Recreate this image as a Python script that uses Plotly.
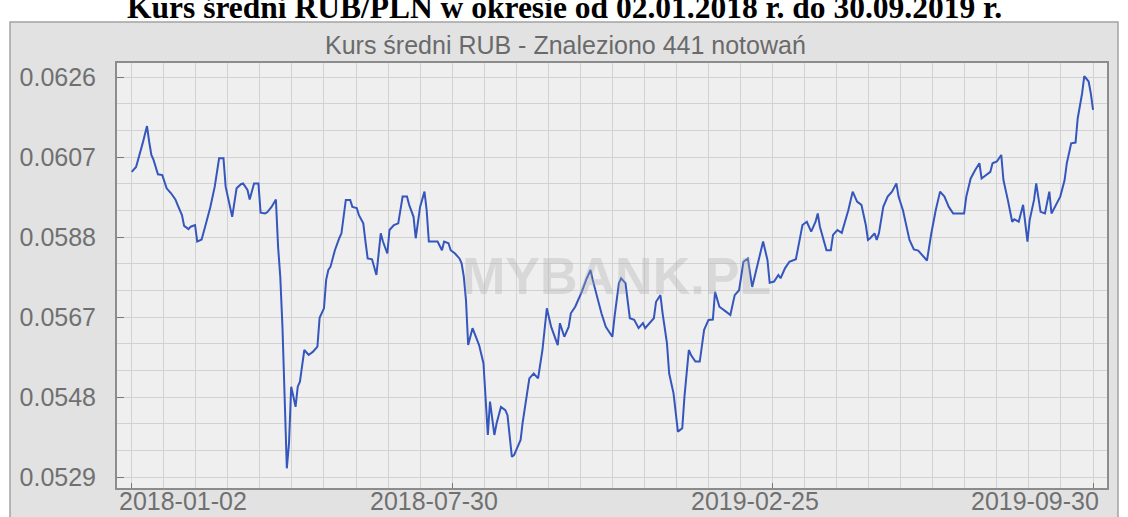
import plotly.graph_objects as go

# ---- data (quotation number, average RUB/PLN rate) ----
quote_no = [0, 2, 5, 7, 8, 9, 10, 12, 14, 16,
            18, 20, 21, 23, 24, 26, 27, 29, 30, 32,
            34, 36, 38, 40, 42, 43, 45, 46, 48, 50,
            51, 53, 54, 56, 58, 59, 61, 62, 64, 66,
            67, 68, 69, 70, 71, 72, 73, 74, 75, 76,
            77, 79, 81, 83, 85, 86, 87, 88, 89, 90,
            91, 93, 95, 96, 98, 100, 101, 103, 104, 106,
            107, 108, 110, 112, 114, 115, 117, 118, 120, 122,
            124, 126, 127, 129, 130, 132, 134, 135, 136, 138,
            140, 142, 143, 145, 146, 148, 150, 151, 152, 153,
            154, 156, 157, 159, 161, 162, 163, 164, 166, 167,
            169, 171, 172, 174, 175, 178, 179, 182, 184, 186,
            188, 190, 192, 195, 196, 198, 200, 201, 203, 204,
            206, 208, 210, 211, 213, 215, 217, 220, 221, 223,
            224, 226, 228, 230, 232, 234, 235, 237, 239, 240,
            242, 243, 245, 246, 248, 250, 252, 253, 255, 256,
            258, 260, 262, 264, 266, 267, 269, 272, 274, 276,
            278, 280, 282, 284, 286, 288, 289, 291, 292, 294,
            296, 297, 299, 301, 304, 306, 307, 309, 311, 313,
            314, 315, 317, 318, 320, 321, 323, 325, 328, 330,
            332, 334, 336, 337, 338, 340, 341, 342, 344, 346,
            348, 350, 351, 353, 356, 358, 360, 362, 364, 366,
            368, 370, 372, 374, 376, 378, 381, 382, 384, 386,
            388, 389, 391, 393, 394, 396, 398, 399, 401, 403,
            404, 406, 408, 410, 411, 413, 414, 416, 418, 420,
            421, 423, 425, 427, 428, 430, 432, 433, 435, 436,
            438, 439, 440]

rate = [0.06030, 0.06042, 0.06099, 0.06141, 0.06103, 0.06071, 0.06059, 0.06024, 0.06022, 0.05990,
        0.05978, 0.05963, 0.05950, 0.05925, 0.05899, 0.05891, 0.05897, 0.05901, 0.05861, 0.05866,
        0.05905, 0.05945, 0.05994, 0.06063, 0.06063, 0.05994, 0.05945, 0.05921, 0.05990, 0.06000,
        0.06002, 0.05986, 0.05963, 0.06002, 0.06002, 0.05931, 0.05929, 0.05932, 0.05945, 0.05963,
        0.05848, 0.05776, 0.05654, 0.05452, 0.05311, 0.05372, 0.05509, 0.05485, 0.05460, 0.05509,
        0.05521, 0.05598, 0.05586, 0.05594, 0.05606, 0.05676, 0.05690, 0.05699, 0.05768, 0.05792,
        0.05800, 0.05840, 0.05869, 0.05881, 0.05962, 0.05962, 0.05945, 0.05942, 0.05925, 0.05905,
        0.05861, 0.05820, 0.05818, 0.05780, 0.05881, 0.05861, 0.05832, 0.05889, 0.05901, 0.05905,
        0.05970, 0.05970, 0.05950, 0.05921, 0.05869, 0.05945, 0.05982, 0.05937, 0.05861, 0.05861,
        0.05861, 0.05840, 0.05861, 0.05857, 0.05840, 0.05832, 0.05820, 0.05808, 0.05776, 0.05719,
        0.05610, 0.05651, 0.05638, 0.05610, 0.05566, 0.05477, 0.05392, 0.05473, 0.05392, 0.05420,
        0.05460, 0.05452, 0.05440, 0.05339, 0.05343, 0.05380, 0.05424, 0.05529, 0.05541, 0.05529,
        0.05598, 0.05699, 0.05654, 0.05610, 0.05663, 0.05630, 0.05654, 0.05687, 0.05703, 0.05715,
        0.05739, 0.05768, 0.05792, 0.05768, 0.05727, 0.05687, 0.05654, 0.05630, 0.05679, 0.05760,
        0.05772, 0.05760, 0.05675, 0.05671, 0.05651, 0.05663, 0.05651, 0.05663, 0.05675, 0.05715,
        0.05731, 0.05687, 0.05614, 0.05541, 0.05493, 0.05400, 0.05408, 0.05485, 0.05598, 0.05586,
        0.05570, 0.05570, 0.05647, 0.05671, 0.05672, 0.05739, 0.05703, 0.05691, 0.05683, 0.05731,
        0.05743, 0.05812, 0.05820, 0.05751, 0.05796, 0.05840, 0.05861, 0.05816, 0.05761, 0.05764,
        0.05780, 0.05772, 0.05796, 0.05812, 0.05818, 0.05873, 0.05901, 0.05909, 0.05885, 0.05909,
        0.05929, 0.05897, 0.05861, 0.05840, 0.05840, 0.05877, 0.05889, 0.05882, 0.05937, 0.05982,
        0.05958, 0.05950, 0.05901, 0.05865, 0.05869, 0.05881, 0.05865, 0.05881, 0.05945, 0.05970,
        0.05982, 0.06002, 0.05970, 0.05937, 0.05865, 0.05842, 0.05839, 0.05828, 0.05815, 0.05881,
        0.05937, 0.05982, 0.05970, 0.05945, 0.05929, 0.05929, 0.05929, 0.05970, 0.06014, 0.06034,
        0.06051, 0.06014, 0.06022, 0.06030, 0.06051, 0.06055, 0.06071, 0.06010, 0.05962, 0.05909,
        0.05915, 0.05909, 0.05950, 0.05861, 0.05913, 0.05962, 0.06002, 0.05933, 0.05929, 0.05982,
        0.05929, 0.05950, 0.05970, 0.06010, 0.06051, 0.06099, 0.06101, 0.06160, 0.06220, 0.06262,
        0.06249, 0.06220, 0.06180]

x_tick_labels = ["2018-01-02", "2018-07-30", "2019-02-25", "2019-09-30"]
y_tick_labels = ["0.0529", "0.0548", "0.0567", "0.0588", "0.0607", "0.0626"]

page_title = "Kurs średni RUB/PLN w okresie od 02.01.2018 r. do 30.09.2019 r."
chart_title = "Kurs średni RUB - Znaleziono 441 notowań"
watermark = "MYBANK.PL"

# ---- axis scales ----
n_last = 440
x_ticks = [n_last * i / 3 for i in range(4)]
y_base, y_step = 0.0529, 0.00194
y_ticks = [y_base + i * y_step for i in range(len(y_tick_labels))]

W, H = 1128, 517
L, R, T, B = 117, 21, 63, 29
PW, PH = W - L - R, H - T - B


def fx(px):
    return (px - L) / PW


def fy(py):
    return (H - B - py) / PH


panel = "#e2e2e2"
grid = "#d2d2d2"
label_font = dict(family="Liberation Sans, Arial, sans-serif", size=25, color="#707070")

fig = go.Figure()
fig.add_trace(go.Scatter(
    x=quote_no, y=rate, mode="lines",
    line=dict(color="#3556bd", width=2),
    hoverinfo="skip", showlegend=False,
))

# x tick labels (edge labels kept inside the panel, as in the original)
x_label_specs = [("left", -14), ("center", -18), ("center", -18), ("right", 7)]
annotations = []
for xv, txt, (anc, shift) in zip(x_ticks, x_tick_labels, x_label_specs):
    annotations.append(dict(
        text=txt, xref="x", yref="paper", x=xv, y=fy(501), xanchor=anc, yanchor="middle",
        xshift=shift, showarrow=False, borderpad=0, font=label_font))

annotations += [
    dict(text=f"<b>{page_title}</b>", xref="paper", yref="paper",
         x=fx(564), y=fy(27), xanchor="center", yanchor="bottom", showarrow=False,
         font=dict(family="Liberation Serif, Times New Roman, serif", size=31.5, color="black")),
    dict(text=chart_title, xref="paper", yref="paper",
         x=fx(565), y=fy(45), xanchor="center", yanchor="middle", showarrow=False,
         font=dict(family="Liberation Sans, Arial, sans-serif", size=25, color="#6a6a6a")),
    dict(text=f"<b>{watermark}</b>", xref="paper", yref="paper",
         x=fx(616), y=fy(276), xanchor="center", yanchor="middle", showarrow=False,
         font=dict(family="Liberation Sans, Arial, sans-serif", size=52, color="rgba(170,170,170,0.33)")),
]

fig.update_layout(
    width=W, height=H,
    margin=dict(l=L, r=R, t=T, b=B, pad=0),
    paper_bgcolor=panel,
    plot_bgcolor="#efefef",
    showlegend=False,
    xaxis=dict(
        range=[-6.73, 446.4], automargin=False,
        tickmode="array", tickvals=x_ticks, ticktext=x_tick_labels, showticklabels=False,
        ticks="inside", ticklen=5, tickcolor="#777777", tickwidth=1,
        showgrid=True, gridcolor=grid, gridwidth=1,
        minor=dict(tick0=0, dtick=n_last / 30, showgrid=True, gridcolor=grid, gridwidth=1),
        showline=True, linecolor="#8c8c8c", linewidth=2, mirror=True,
        zeroline=False,
    ),
    yaxis=dict(
        range=[y_base - 11 * y_step / 80, y_base + 414 * y_step / 80], automargin=False,
        tickmode="array", tickvals=y_ticks, ticktext=y_tick_labels,
        ticks="inside", ticklen=7, tickcolor="#777777", tickwidth=1,
        showgrid=True, gridcolor=grid, gridwidth=1,
        minor=dict(tick0=y_base, dtick=y_step / 3, showgrid=True, gridcolor=grid, gridwidth=1),
        showline=True, linecolor="#8c8c8c", linewidth=2, mirror=True,
        zeroline=False, tickfont=label_font, ticklabelstandoff=14,
    ),
    shapes=[
        # white page around the chart panel
        dict(type="rect", xref="paper", yref="paper", x0=fx(0), x1=fx(W), y0=fy(22), y1=fy(0),
             fillcolor="white", line=dict(width=0), layer="below"),
        dict(type="rect", xref="paper", yref="paper", x0=fx(0), x1=fx(10), y0=fy(H), y1=fy(22),
             fillcolor="white", line=dict(width=0), layer="below"),
        dict(type="rect", xref="paper", yref="paper", x0=fx(1118), x1=fx(W), y0=fy(H), y1=fy(22),
             fillcolor="white", line=dict(width=0), layer="below"),
        # panel border
        dict(type="rect", xref="paper", yref="paper", x0=fx(10), x1=fx(1118), y0=fy(H + 2), y1=fy(22),
             fillcolor="rgba(0,0,0,0)", line=dict(color="#a3a3a3", width=1.5), layer="below"),
    ],
    annotations=annotations,
)

fig.write_html("out.html", config={"displayModeBar": False},
               post_script="document.body.style.margin='0px';")
